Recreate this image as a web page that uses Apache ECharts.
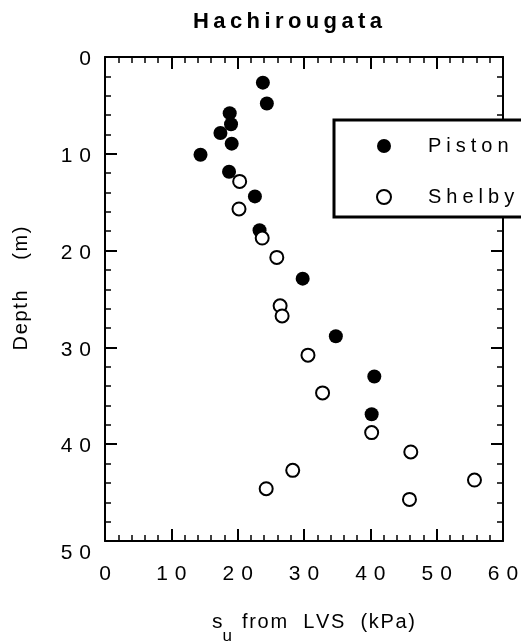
<!DOCTYPE html>
<html><head><meta charset="utf-8">
<script src="https://cdn.jsdelivr.net/npm/echarts@6/dist/echarts.min.js"></script>
<style>html,body{margin:0;padding:0;background:#fff}#c{width:521px;height:642px}</style>
</head><body><div id="c"></div>
<script>
// ---- data ----
const pistonSu    = [23.8, 24.4, 18.8, 19.0, 17.4, 19.1, 14.4, 18.7, 22.6, 23.3, 29.8, 34.8, 40.6, 40.2];
const pistonDepth = [2.65, 4.8, 5.8, 6.95, 7.85, 8.95, 10.1, 11.85, 14.4, 17.9, 22.9, 28.85, 33.0, 36.9];
const shelbySu    = [20.3, 20.2, 23.7, 25.9, 26.4, 26.7, 30.6, 32.8, 40.2, 46.1, 28.3, 55.7, 24.3, 45.9];
const shelbyDepth = [12.85, 15.7, 18.7, 20.7, 25.7, 26.75, 30.8, 34.7, 38.8, 40.8, 42.7, 43.7, 44.6, 45.7];
const xTickLabels = [0, 10, 20, 30, 40, 50, 60];
const yTickLabels = [0, 10, 20, 30, 40, 50];
const seriesNames = ['Piston', 'Shelby'];
const titleText = 'Hachirougata';
const xName = 'from  LVS  (kPa)';
const yName = 'Depth    (m)';

const FONT = '"Liberation Sans", Arial, Helvetica, sans-serif';
const spaced = (s, sp) => String(s).split('').join(sp);
const pairs = (xs, ys) => xs.map((x, i) => [x, ys[i]]);
const yMax = yTickLabels[yTickLabels.length - 1];

const lineStyle = { color: '#000', width: 2 };
const tickStyle = { color: '#000', width: 2 };
const minorStyle = { color: '#000', width: 1.5 };

function xAxisDef(pos, labels) {
  return {
    type: 'value', position: pos,
    min: xTickLabels[0], max: xTickLabels[xTickLabels.length - 1], interval: xTickLabels[1] - xTickLabels[0],
    axisLine: { show: true, onZero: false, lineStyle },
    axisTick: { show: true, inside: true, length: 12, lineStyle: tickStyle },
    minorTick: { show: true, splitNumber: 5, length: 6, lineStyle: minorStyle },
    splitLine: { show: false }, minorSplitLine: { show: false },
    axisLabel: labels ? {
      show: true, margin: 23, color: '#000', fontFamily: FONT, fontSize: 21,
      formatter: v => spaced(v, '\u2004')
    } : { show: false }
  };
}
function yAxisDef(pos, labels) {
  return {
    type: 'value', position: pos, inverse: true,
    min: yTickLabels[0], max: yMax, interval: yTickLabels[1] - yTickLabels[0],
    axisLine: { show: true, onZero: false, lineStyle },
    axisTick: { show: true, inside: true, length: 12, lineStyle: tickStyle },
    minorTick: { show: true, splitNumber: 5, length: 6, lineStyle: minorStyle },
    splitLine: { show: false }, minorSplitLine: { show: false },
    axisLabel: labels ? {
      show: true, margin: 14, color: '#000', fontFamily: FONT, fontSize: 21,
      formatter: v => v === yMax ? '{low|' + spaced(v, '\u2004') + '}' : '{n|' + spaced(v, '\u2004') + '}',
      rich: {
        n: { fontFamily: FONT, fontSize: 21, color: '#000', padding: [5, 0, 0, 0] },
        low: { fontFamily: FONT, fontSize: 21, color: '#000', padding: [24, 0, 0, 0] }
      }
    } : { show: false }
  };
}

const xA = xAxisDef('bottom', true);
xA.name = '{s|s}{u|u}{t|' + spaced(xName, '\u200A') + '}';
xA.nameLocation = 'middle';
xA.nameGap = 59;
xA.nameTextStyle = {
  color: '#000', fontFamily: FONT, fontSize: 20, padding: [0, 0, 0, 19],
  rich: {
    s: { fontSize: 21, fontFamily: FONT, color: '#000' },
    u: { fontSize: 17, fontFamily: FONT, color: '#000', padding: [28, 10, 0, 0] },
    t: { fontSize: 20, fontFamily: FONT, color: '#000' }
  }
};
const yA = yAxisDef('left', true);
yA.name = spaced(yName, '\u200A');
yA.nameLocation = 'middle';
yA.nameGap = 74;
yA.nameTextStyle = { color: '#000', fontFamily: FONT, fontSize: 20, padding: [0, 0, 0, 21] };

const chart = echarts.init(document.getElementById('c'), null, { renderer: 'canvas' });
chart.setOption({
  backgroundColor: '#fff',
  animation: false,
  title: {
    text: spaced(titleText, '\u2009'),
    left: 188, top: 6,
    textStyle: { fontFamily: FONT, fontSize: 22, fontWeight: 'bold', color: '#000' }
  },
  grid: { left: 105, top: 57, width: 398, height: 484, containLabel: false, outerBoundsMode: 'none' },
  legend: {
    data: seriesNames,
    orient: 'vertical', left: 334, top: 120,
    itemWidth: 14, itemHeight: 14, itemGap: 31,
    padding: [16, 40, 10, 42],
    borderColor: '#000', borderWidth: 3,
    backgroundColor: '#fff',
    formatter: n => spaced(n, '\u2005'),
    textStyle: { fontFamily: FONT, fontSize: 20, color: '#000', padding: [0, 0, 0, 32] }
  },
  xAxis: [xA, xAxisDef('top', false)],
  yAxis: [yA, yAxisDef('right', false)],
  series: [
    {
      name: seriesNames[0], type: 'scatter', xAxisIndex: 0, yAxisIndex: 0,
      symbol: 'circle', symbolSize: 14,
      itemStyle: { color: '#000', opacity: 1 },
      data: pairs(pistonSu, pistonDepth)
    },
    {
      name: seriesNames[1], type: 'scatter', xAxisIndex: 0, yAxisIndex: 0,
      symbol: 'circle', symbolSize: 13,
      itemStyle: { color: '#fff', borderColor: '#000', borderWidth: 2, opacity: 1 },
      data: pairs(shelbySu, shelbyDepth)
    }
  ]
});
</script>
</body></html>
